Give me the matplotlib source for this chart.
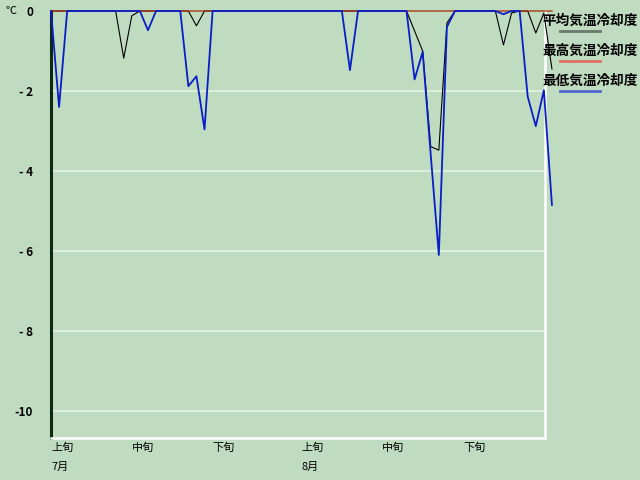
import numpy as np
import matplotlib
matplotlib.use("Agg")
import matplotlib.pyplot as plt

plt.rcParams['font.family'] = ['Noto Sans CJK JP', 'DejaVu Sans']

# daily cooling degree values, Jul 1 .. Sep 1 (63 days)
avg_cool = [0, 0, 0, 0, 0, 0, 0, 0, 0, -1.18,
            -0.12, 0, 0, 0, 0, 0, 0, 0, -0.37, 0,
            0, 0, 0, 0, 0, 0, 0, 0, 0, 0,
            0, 0, 0, 0, 0, 0, 0, 0, 0, 0,
            0, 0, 0, 0, 0, -0.5, -1.0, -3.39, -3.48, -0.3,
            0, 0, 0, 0, 0, 0, -0.85, -0.05, 0, 0,
            -0.55, -0.05, -1.45]
max_cool = [0] * 63
min_cool = [0, -2.4, 0, 0, 0, 0, 0, 0, 0, 0,
            0, 0, -0.48, 0, 0, 0, 0, -1.88, -1.63, -2.96,
            0, 0, 0, 0, 0, 0, 0, 0, 0, 0,
            0, 0, 0, 0, 0, 0, 0, -1.48, 0, 0,
            0, 0, 0, 0, 0, -1.71, -1.02, -3.6, -6.1, -0.4,
            0, 0, 0, 0, 0, 0, -0.08, 0, 0, -2.14,
            -2.88, -1.98, -4.85]

tick_pos = [0, 10, 20, 31, 41, 51]
tick_labels = ['上旬\n7月', '中旬', '下旬', '上旬\n8月', '中旬', '下旬']
y_ticks = [0, -2, -4, -6, -8, -10]
y_labels = ['0', '- 2', '- 4', '- 6', '- 8', '-10']
legend_names = ['平均気温冷却度', '最高気温冷却度', '最低気温冷却度']

bg = '#c0dcc0'
fig = plt.figure(figsize=(6.4, 4.8), dpi=100, facecolor=bg)
ax = fig.add_axes([51 / 640, 42 / 480, 494 / 640, 427 / 480], facecolor=bg)

days = np.arange(len(avg_cool))
ax.plot(days, avg_cool, color='black', lw=0.8, clip_on=False, zorder=3)
ax.plot(days, max_cool, color='#a83818', lw=1.0, clip_on=False, zorder=4, snap=False)
ax.plot(days, min_cool, color='#0a1ec8', lw=1.3, clip_on=False, zorder=5, snap=False)

ax.set_xlim(0, 61.14)
ax.set_ylim(-10.675, 0)

for y in y_ticks[1:]:
    ax.axhline(y, color='#e6f2e0', lw=1.2, zorder=1)

ax.set_yticks(y_ticks)
ax.set_yticklabels(y_labels, fontsize=8.5, fontweight='bold')
ax.set_xticks(tick_pos)
ax.set_xticklabels(tick_labels, fontsize=8, ha='left', linespacing=2.1, va='top')
ax.tick_params(axis='y', length=0, pad=13)
ax.tick_params(axis='x', length=0, pad=3)

ax.spines['top'].set_visible(False)
ax.spines['left'].set_color('#102810')
ax.spines['left'].set_linewidth(2.2)
ax.spines['right'].set_color('white')
ax.spines['right'].set_linewidth(1.8)
ax.spines['bottom'].set_color('white')
ax.spines['bottom'].set_linewidth(1.8)

fig.text(5 / 640, 1 - 11 / 480, '℃', fontsize=8, va='center', ha='left')

# legend drawn by hand on the right side
sw_colors = ['#6e786e', '#e07060', '#5068d0']
for i, (name, c) in enumerate(zip(legend_names, sw_colors)):
    ty = 1 - (21 + 30 * i) / 480
    sy = 1 - (31 + 30 * i) / 480
    fig.text(542 / 640, ty, name, fontsize=9.8, fontweight='bold',
             va='center', ha='left', zorder=10)
    fig.add_artist(plt.Line2D([560 / 640, 600 / 640], [sy, sy],
                              color=c, lw=2, transform=fig.transFigure))

fig.savefig('out.png', dpi=100, facecolor=bg)
